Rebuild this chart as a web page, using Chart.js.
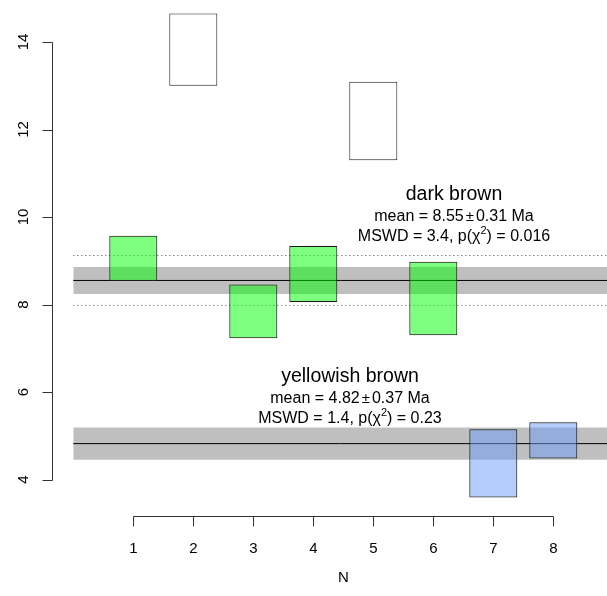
<!DOCTYPE html>
<html>
<head>
<meta charset="utf-8">
<script src="https://cdn.jsdelivr.net/npm/chart.js@4/dist/chart.umd.min.js"></script>
<style>
html,body{margin:0;padding:0;background:#fff;}
canvas{display:block;}
</style>
</head>
<body>
<canvas id="c" width="607" height="596"></canvas>
<script>
// ---- data ----
const N = [1, 2, 3, 4, 5, 6, 7, 8];
const lower = [8.54, 13.00, 7.23, 8.06, 11.30, 7.30, 3.59, 4.48];
const upper = [9.57, 14.65, 8.46, 9.34, 13.09, 8.98, 5.15, 5.31];
const group = [0, -1, 0, 0, -1, 0, 1, 1]; // -1 = rejected
const groupNames = ['dark brown', 'yellowish brown'];
const groupMean = [8.55, 4.82];
const groupErr = [0.31, 0.37];
const groupDisp = [0.57, null];
const groupMSWD = ['3.4', '1.4'];
const groupP = ['0.016', '0.23'];
const bandX = [0, 9];
const yTicks = [4, 6, 8, 10, 12, 14];
const xTitle = 'N';

// ---- styles ----
const FONT = '"Liberation Sans", Arial, Helvetica, sans-serif';
const groupFill = ['rgba(0,255,0,0.5)', 'rgba(108,156,245,0.5)'];
const rejectedFill = '#ffffff';
const bandColor = '#BFBFBF';

const hline = (y) => bandX.map(x => ({x: x, y: y}));

const datasets = [];
groupMean.forEach((m, g) => {
  datasets.push({type: 'line', data: hline(m - groupErr[g]), borderWidth: 0, borderColor: 'rgba(0,0,0,0)', pointRadius: 0, fill: false, order: 5});
  datasets.push({type: 'line', data: hline(m + groupErr[g]), borderWidth: 0, borderColor: 'rgba(0,0,0,0)', pointRadius: 0, fill: '-1', backgroundColor: bandColor, order: 4});
});
groupMean.forEach((m, g) => {
  datasets.push({type: 'line', data: hline(m), borderWidth: 1, borderColor: '#000', pointRadius: 0, fill: false, order: 3});
  if (groupDisp[g] != null) {
    [m + groupDisp[g], m - groupDisp[g]].forEach(v => {
      datasets.push({type: 'line', data: hline(v), borderWidth: 1, borderColor: '#555', borderDash: [1, 3], pointRadius: 0, fill: false, order: 3});
    });
  }
});
datasets.push({
  type: 'bar',
  data: N.map((n, i) => ({x: n, y: [lower[i], upper[i]]})),
  backgroundColor: group.map(g => g < 0 ? rejectedFill : groupFill[g]),
  borderColor: '#1a1a1a',
  borderWidth: 1,
  borderSkipped: false,
  barPercentage: 0.8,
  categoryPercentage: 1.0,
  order: 0
});

function drawParts(ctx, parts, cx, y) {
  let total = 0;
  parts.forEach(p => { ctx.font = p.size + 'px ' + FONT; p.w = ctx.measureText(p.t).width + (p.gap || 0) * 2; total += p.w; });
  let x = cx - total / 2;
  parts.forEach(p => {
    ctx.font = p.size + 'px ' + FONT;
    ctx.fillText(p.t, x + (p.gap || 0), y + (p.dy || 0));
    x += p.w;
  });
}

const rAxes = {
  id: 'rAxes',
  afterDraw(chart) {
    const ctx = chart.ctx, xs = chart.scales.x, ys = chart.scales.y, a = chart.chartArea;
    ctx.save();
    ctx.strokeStyle = '#333';
    ctx.lineWidth = 1;
    ctx.fillStyle = '#000';
    // y axis
    const yTop = Math.round(ys.getPixelForValue(yTicks[yTicks.length - 1])) + 0.5;
    const yBot = Math.round(ys.getPixelForValue(yTicks[0])) + 0.5;
    const ax = Math.round(a.left) + 0.5;
    ctx.beginPath();
    ctx.moveTo(ax, yTop); ctx.lineTo(ax, yBot);
    yTicks.forEach(t => {
      const py = Math.round(ys.getPixelForValue(t)) + 0.5;
      ctx.moveTo(ax, py); ctx.lineTo(ax - 10, py);
    });
    ctx.stroke();
    ctx.font = '15px ' + FONT;
    ctx.textAlign = 'center';
    ctx.textBaseline = 'middle';
    yTicks.forEach(t => {
      const py = ys.getPixelForValue(t);
      ctx.save();
      ctx.translate(24, py);
      ctx.rotate(-Math.PI / 2);
      ctx.fillText(String(t), 0, 0);
      ctx.restore();
    });
    // x axis
    const ay = Math.round(a.bottom) + 0.5;
    const xl = Math.round(xs.getPixelForValue(N[0])) + 0.5;
    const xr = Math.round(xs.getPixelForValue(N[N.length - 1])) + 0.5;
    ctx.beginPath();
    ctx.moveTo(xl, ay); ctx.lineTo(xr, ay);
    N.forEach(n => {
      const px = Math.round(xs.getPixelForValue(n)) + 0.5;
      ctx.moveTo(px, ay); ctx.lineTo(px, ay + 10);
    });
    ctx.stroke();
    N.forEach(n => ctx.fillText(String(n), xs.getPixelForValue(n), ay + 32));
    ctx.fillText(xTitle, (a.left + xs.getPixelForValue(9.36)) / 2, ay + 61);
    // annotations
    const centers = [[454, 195], [350, 377]];
    groupNames.forEach((name, g) => {
      const [cx, cy] = centers[g];
      ctx.textAlign = 'center';
      ctx.font = '19.5px ' + FONT;
      ctx.fillText(name, cx, cy);
      ctx.textAlign = 'left';
      drawParts(ctx, [
        {t: 'mean = ' + groupMean[g].toFixed(2), size: 16},
        {t: '±', size: 15, gap: 2},
        {t: groupErr[g].toFixed(2) + ' Ma', size: 16}
      ], cx, cy + 22);
      drawParts(ctx, [
        {t: 'MSWD = ' + groupMSWD[g] + ', p(\u03C7', size: 16},
        {t: '2', size: 11, dy: -6},
        {t: ') = ' + groupP[g], size: 16}
      ], cx, cy + 42);
    });
    ctx.restore();
  }
};

new Chart(document.getElementById('c'), {
  type: 'bar',
  data: {datasets: datasets},
  options: {
    responsive: false,
    devicePixelRatio: 1,
    animation: false,
    layout: {padding: {left: 52, right: 0, top: 0, bottom: 80}},
    plugins: {legend: {display: false}, tooltip: {enabled: false}},
    scales: {
      x: {
        type: 'linear', min: -0.355, max: 8.895, offset: false, display: false,
        afterBuildTicks: (s) => { s.ticks = N.map(v => ({value: v})); }
      },
      y: {type: 'linear', min: 3.166, max: 14.96, display: false}
    }
  },
  plugins: [rAxes]
});
</script>
</body>
</html>
